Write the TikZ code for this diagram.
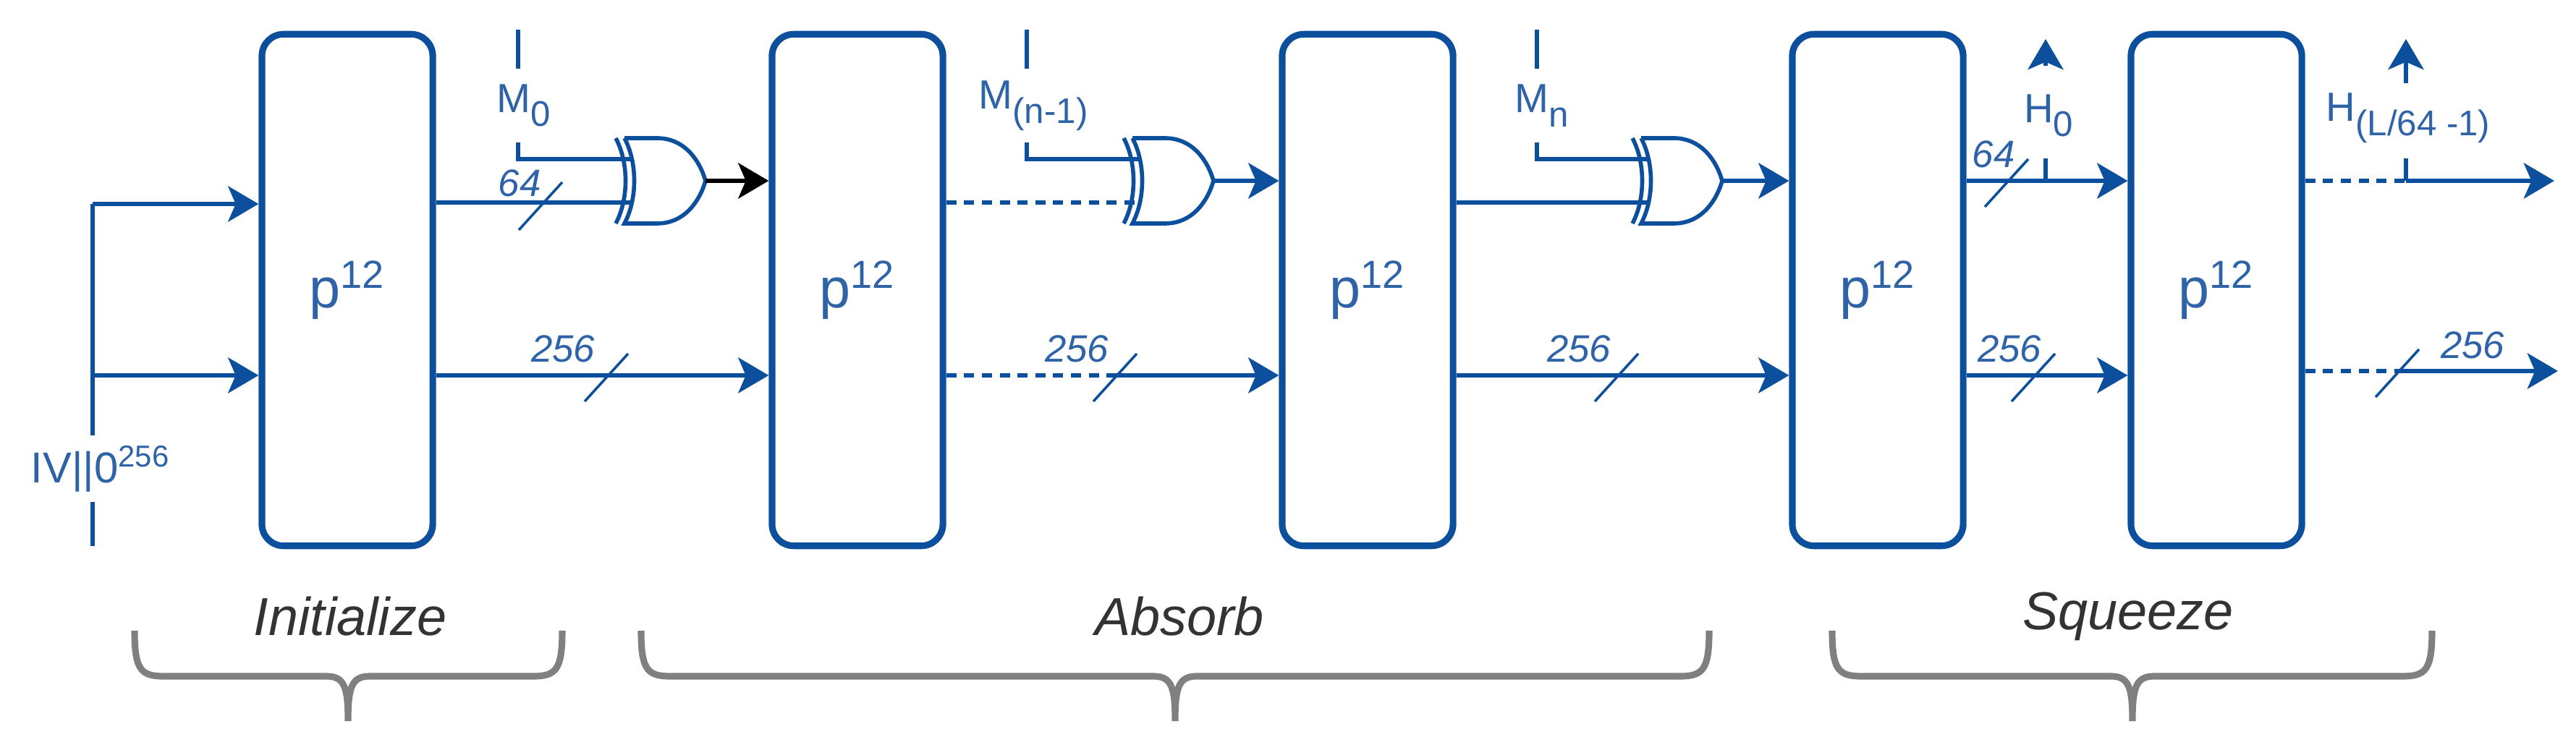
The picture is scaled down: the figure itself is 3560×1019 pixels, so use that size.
\documentclass[tikz,border=0pt]{standalone}
\usepackage{fontspec}
\setmainfont{Liberation Sans}
\usetikzlibrary{arrows.meta,calc}
\definecolor{bl}{HTML}{0C4F9C}
\definecolor{tbl}{HTML}{2E63A8}
\definecolor{gr}{HTML}{808080}
\definecolor{dg}{HTML}{333333}
\newcommand{\lsub}[1]{\raisebox{-0.35em}{\fontsize{14}{14}\selectfont #1}}
\begin{document}
\begin{tikzpicture}[x=0.01cm,y=-0.01cm,
  box/.style={draw=bl,line width=2.6pt,rounded corners=0.3cm,minimum width=2.36cm,minimum height=7.07cm,inner sep=0pt,text=tbl,font=\fontsize{22}{24}\selectfont},
  conn/.style={draw=bl,line width=1.6pt},
  dconn/.style={conn,dash pattern=on 4pt off 3pt},
  arr/.style={-{Stealth[length=12pt,width=14pt,inset=3pt]}},
  slashst/.style={draw=bl,line width=1pt},
  num/.style={text=tbl,font=\fontsize{15}{16}\selectfont\itshape,inner sep=1pt},
  lab/.style={text=tbl,font=\fontsize{16}{18}\selectfont,inner sep=0pt,minimum height=1cm},
  brace/.style={draw=gr,line width=2.6pt},
  blab/.style={text=dg,font=\fontsize{21}{24}\selectfont\itshape},
  pics/xor/.style={code={
    \draw[bl,line width=1.6pt] (0,-59) -- (45,-59) .. controls (85,-59) and (105,-25) .. (112,0)
      .. controls (105,25) and (85,59) .. (45,59) -- (0,59) .. controls (18,25) and (18,-25) .. (0,-59);
    \draw[bl,line width=1.6pt] (-12,-59) .. controls (6,-25) and (6,25) .. (-12,59);
    \coordinate (-a) at (10,-30);
    \coordinate (-b) at (10,30);
    \coordinate (-o) at (112,0);
  }}]
\useasboundingbox (0,0) rectangle (3560,1019);

% boxes
\node[box] (b1) at (480,401) {p\textsuperscript{12}};
\node[box] (b2) at (1185,401) {p\textsuperscript{12}};
\node[box] (b3) at (1890,401) {p\textsuperscript{12}};
\node[box] (b4) at (2595,401) {p\textsuperscript{12}};
\node[box] (b5) at (3063,401) {p\textsuperscript{12}};

% xor gates
\pic (x1) at (863,250) {xor};
\pic (x2) at (1565,250) {xor};
\pic (x3) at (2268,250) {xor};

% IV input
\coordinate (ivt) at (128,282);
\coordinate (ivm) at (128,519);
\coordinate (ivb) at (128,755);
\node[text=tbl,font=\fontsize{17}{18}\selectfont,inner sep=0pt,minimum height=0.9cm] (iv) at (139,648) {IV||0\textsuperscript{256}};
\draw[conn] (iv.north -| ivt) -- (ivt);
\draw[conn] (iv.south -| ivb) -- (ivb);
\draw[conn,arr] (ivt) -- (b1.west |- ivt);
\draw[conn,arr] (ivm) -- (b1.west |- ivm);

% message inputs
\coordinate (m0t) at (716,41);
\node[lab] (m0) at (724,146) {M\lsub{0}};
\draw[conn] (m0t) -- (m0.north -| m0t);
\draw[conn] (m0.south -| m0t) |- (x1-a);
\coordinate (m1t) at (1419,41);
\node[lab] (m1) at (1428,146) {M\lsub{(n-1)}};
\draw[conn] (m1t) -- (m1.north -| m1t);
\draw[conn] (m1.south -| m1t) |- (x2-a);
\coordinate (m2t) at (2124,41);
\node[lab] (m2) at (2131,146) {M\lsub{n}};
\draw[conn] (m2t) -- (m2.north -| m2t);
\draw[conn] (m2.south -| m2t) |- (x3-a);

% upper row
\draw[conn] (b1.east |- x1-b) -- (x1-b);
\draw[black,line width=1.6pt,arr] (x1-o) -- (b2.west |- x1-o);
\draw[dconn] (b2.east |- x2-b) -- (x2-b);
\draw[conn,arr] (x2-o) -- (b3.west |- x2-o);
\draw[conn] (b3.east |- x3-b) -- (x3-b);
\draw[conn,arr] (x3-o) -- (b4.west |- x3-o);
\coordinate (h0) at (2827,250);
\draw[conn,arr] (b4.east |- h0) -- (b5.west |- h0);
\draw[conn] (h0) -- ++(0,-31);
\node[lab] (h0l) at (2831,160) {H\lsub{0}};
\coordinate (h0t) at (2827,54);
\draw[conn,arr] (h0l.north -| h0t) ++(0,-18) -- (h0t);
\coordinate (h1) at (3325,250);
\coordinate (o1) at (3530,250);
\draw[dconn] (b5.east |- h1) -- (h1);
\draw[conn,arr] (h1) -- (o1);
\draw[conn] (h1) -- ++(0,-31);
\node[lab] (h1l) at (3328,163) {H\lsub{(L/64 -1)}};
\coordinate (h1t) at (3325,54);
\draw[conn,arr] (h1) ++(0,-135) -- (h1t);

% lower row
\coordinate (l1) at (600,519);
\draw[conn,arr] (b1.east |- l1) -- (b2.west |- l1);
\coordinate (s2) at (1541,519);
\draw[dconn] (b2.east |- s2) -- (s2);
\draw[conn,arr] (s2) -- (b3.west |- s2);
\draw[conn,arr] (b3.east |- s2) -- (b4.west |- s2);
\draw[conn,arr] (b4.east |- s2) -- (b5.west |- s2);
\coordinate (s6) at (3313,513);
\coordinate (o2) at (3535,513);
\draw[dconn] (b5.east |- s6) -- (s6);
\draw[conn,arr] (s6) -- (o2);

% slashes and widths
\foreach \p/\t in {{747,282}/64,{838,519}/256,{1541,519}/256,{2234,519}/256,{2773,250}/64,{2810,519}/256,{3313,513}/256}{
  \draw[slashst] ($(\p)+(-30,36)$) -- ($(\p)+(30,-30)$);
}
\node[num,anchor=south] at (718,276) {64};
\node[num,anchor=south] at (778,505) {256};
\node[num,anchor=south] at (1488,505) {256};
\node[num,anchor=south] at (2182,505) {256};
\node[num,anchor=south] at (2755,236) {64};
\node[num,anchor=south] at (2777,505) {256};
\node[num,anchor=south] at (3417,500) {256};

% braces
\foreach \a/\c/\b in {186/481/777,886/1624/2362,2532/2947/3361}{
  \draw[brace] (\a,872) .. controls (\a,925) and (\a+8,935) .. (\a+40,935) -- (\c-30,935)
    .. controls (\c-5,935) and (\c,950) .. (\c,997) .. controls (\c,950) and (\c+5,935) .. (\c+30,935)
    -- (\b-40,935) .. controls (\b-8,935) and (\b,925) .. (\b,872);
}
\node[blab] (ini) at (484,852) {Initialize};
\node[blab] (abs) at (1630,852) {Absorb};
\node[blab] (sqz) at (2941,852) {Squeeze};
\end{tikzpicture}
\end{document}
